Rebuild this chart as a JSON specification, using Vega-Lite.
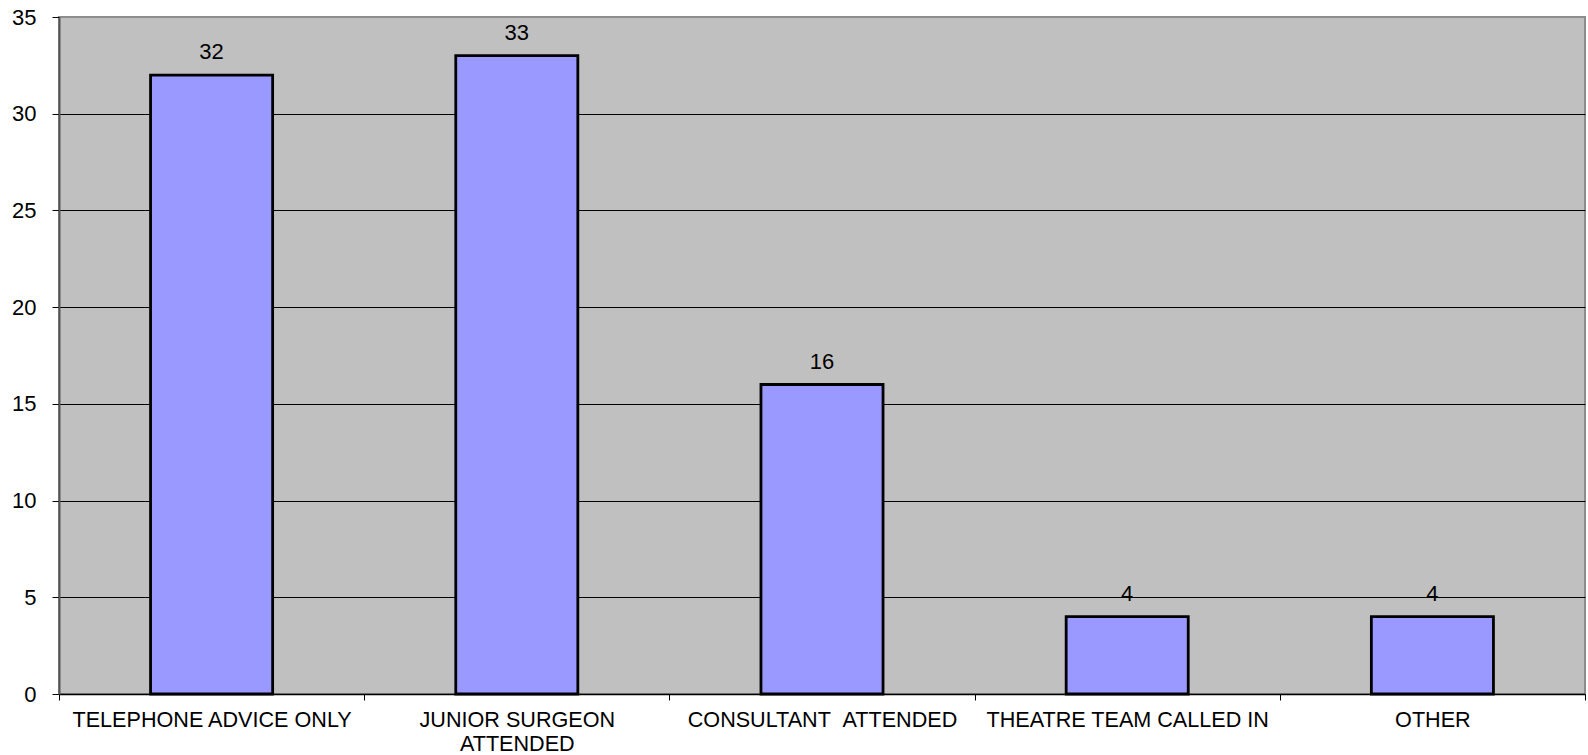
{
  "$schema": "https://vega.github.io/schema/vega-lite/v6.json",
  "width": 1526,
  "height": 677,
  "autosize": {"type": "none"},
  "padding": {"left": 59, "top": 17, "right": 3, "bottom": 61},
  "background": "white",
  "config": {
    "font": "Liberation Sans",
    "view": {"fill": "#C0C0C0", "stroke": "#8c8c8c", "strokeWidth": 2}
  },
  "data": {
    "values": [
      {"category": "TELEPHONE ADVICE ONLY", "count": 32},
      {"category": "JUNIOR SURGEON ATTENDED", "count": 33},
      {"category": "CONSULTANT \u00a0ATTENDED", "count": 16},
      {"category": "THEATRE TEAM CALLED IN", "count": 4},
      {"category": "OTHER", "count": 4}
    ]
  },
  "encoding": {
    "x": {
      "field": "category",
      "type": "nominal",
      "sort": null,
      "scale": {"paddingInner": 0, "paddingOuter": 0},
      "axis": {
        "title": null,
        "labelAngle": 0,
        "labelFontSize": 21.6,
        "labelLimit": 0,
        "labelColor": "black",
        "labelPadding": 9,
        "labelLineHeight": 24,
        "labelExpr": "datum.label == 'JUNIOR SURGEON ATTENDED' ? ['JUNIOR SURGEON', 'ATTENDED'] : datum.label",
        "tickBand": "extent",
        "tickSize": 6,
        "tickColor": "black",
        "domainColor": "black",
        "domainWidth": 1.5
      }
    },
    "y": {
      "field": "count",
      "type": "quantitative",
      "scale": {"domain": [0, 35], "nice": false},
      "axis": {
        "title": null,
        "values": [0, 5, 10, 15, 20, 25, 30, 35],
        "labelFontSize": 22,
        "labelColor": "black",
        "labelPadding": 16,
        "tickSize": 7,
        "tickColor": "black",
        "domainColor": "#555555",
        "domainWidth": 2,
        "grid": true,
        "gridColor": {"condition": {"test": "datum.value == 35 || datum.value == 0", "value": "transparent"}, "value": "black"},
        "gridWidth": 1
      }
    }
  },
  "layer": [
    {
      "mark": {"type": "bar", "fill": "#9999FF", "stroke": "black", "strokeWidth": 2.8, "width": {"band": 0.4}}
    },
    {
      "mark": {"type": "text", "fontSize": 22, "color": "black", "baseline": "alphabetic", "dy": -16},
      "encoding": {"text": {"field": "count", "type": "quantitative"}}
    }
  ]
}
